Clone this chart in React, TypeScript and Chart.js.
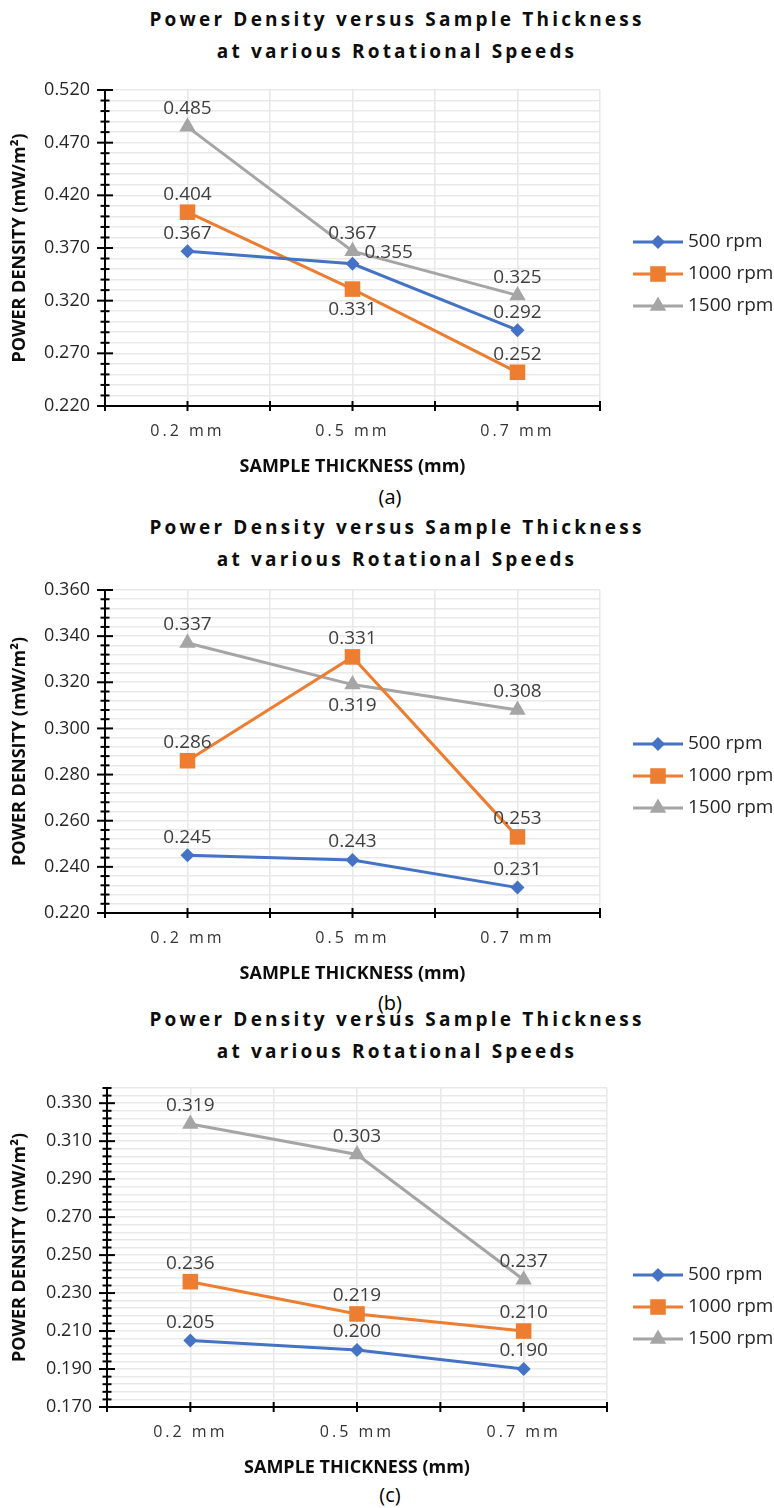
import React, { useEffect, useRef } from 'react';
import { Chart, registerables } from 'chart.js';
import { drawPoint } from 'chart.js/helpers';

Chart.register(...registerables);

// ---------- data ----------
const CATEGORIES = ['0.2 mm', '0.5 mm', '0.7 mm'];
const SERIES_NAMES = ['500 rpm', '1000 rpm', '1500 rpm'];

const A_500 = [0.367, 0.355, 0.292];
const A_1000 = [0.404, 0.331, 0.252];
const A_1500 = [0.485, 0.367, 0.325];

const B_500 = [0.245, 0.243, 0.231];
const B_1000 = [0.286, 0.331, 0.253];
const B_1500 = [0.337, 0.319, 0.308];

const C_500 = [0.205, 0.2, 0.19];
const C_1000 = [0.236, 0.219, 0.21];
const C_1500 = [0.319, 0.303, 0.237];

// y axis: min, max, major step, minor step
const A_Y_AXIS = [0.22, 0.52, 0.05, 0.01];
const B_Y_AXIS = [0.22, 0.36, 0.02, 0.004];
const C_Y_AXIS = [0.17, 0.338, 0.02, 0.004];

const TITLE_LINE_1 = 'Power Density versus Sample Thickness';
const TITLE_LINE_2 = 'at various Rotational Speeds';
const X_TITLE = 'SAMPLE THICKNESS (mm)';
const Y_TITLE = 'POWER DENSITY (mW/m\u00B2)';

// ---------- styles ----------
const SERIES_COLORS = ['#4472C4', '#ED7D31', '#A5A5A5'];
const POINT_STYLES = ['rectRot', 'rect', 'triangle'];
const POINT_RADII = [7, 11, 9.5];
const FONT = '"Open Sans", "Liberation Sans", sans-serif';

const A_LABEL_POS = [
  ['above', 'right', 'above'],
  ['above', 'below', 'above'],
  ['above', 'above', 'above'],
];
const B_LABEL_POS = [
  ['above', 'above', 'above'],
  ['above', 'above', 'above'],
  ['above', 'below', 'above'],
];
const C_LABEL_POS = [
  ['above', 'above', 'above'],
  ['above', 'above', 'above'],
  ['above', 'above', 'above'],
];

type PanelCfg = {
  series: number[][];
  yAxis: number[];
  labelPos: string[][];
  caption: string;
  titleTop: number;
  canvasTop: number;
  plotTop: number;
  plotBottom: number;
  plotLeft: number;
  plotRight: number;
  legendY: number[];
  captionY: number;
};

const X_AXIS_HEIGHT = 74;

const PANELS: PanelCfg[] = [
  {
    series: [A_500, A_1000, A_1500], yAxis: A_Y_AXIS, labelPos: A_LABEL_POS, caption: '(a)',
    titleTop: 3, canvasTop: 0, plotTop: 90, plotBottom: 406, plotLeft: 105, plotRight: 600,
    legendY: [242, 274, 306], captionY: 497,
  },
  {
    series: [B_500, B_1000, B_1500], yAxis: B_Y_AXIS, labelPos: B_LABEL_POS, caption: '(b)',
    titleTop: 511, canvasTop: 490, plotTop: 590, plotBottom: 913, plotLeft: 105, plotRight: 600,
    legendY: [744, 776, 808], captionY: 1003,
  },
  {
    series: [C_500, C_1000, C_1500], yAxis: C_Y_AXIS, labelPos: C_LABEL_POS, caption: '(c)',
    titleTop: 1003, canvasTop: 990, plotTop: 1088, plotBottom: 1407, plotLeft: 107, plotRight: 607,
    legendY: [1275, 1307, 1339], captionY: 1495,
  },
];

function makeConfig(p: PanelCfg): any {
  const [yMin, yMax, yMajor, yMinor] = p.yAxis;
  const nMinor = Math.round((yMax - yMin) / yMinor);
  const perMajor = Math.round(yMajor / yMinor);

  const decor = {
    id: 'decor',
    afterLayout(chart: any) {
      const s = chart.scales.x;
      if (!s.__patched) {
        const orig = s.drawLabels;
        s.drawLabels = function (ca: any) {
          const ctx = this.ctx;
          ctx.save();
          (ctx as any).letterSpacing = '3px';
          orig.call(this, ca);
          ctx.restore();
        };
        s.__patched = true;
      }
    },
    afterDraw(chart: any) {
      const ctx = chart.ctx as CanvasRenderingContext2D;
      const { x, y } = chart.scales;
      const ca = chart.chartArea;
      const line = (x1: number, y1: number, x2: number, y2: number) => {
        ctx.beginPath();
        ctx.moveTo(x1, y1);
        ctx.lineTo(x2, y2);
        ctx.stroke();
      };
      ctx.save();
      // axis tick marks crossing the axes
      ctx.strokeStyle = '#000';
      ctx.lineWidth = 2;
      y.ticks.forEach((t: any, k: number) => {
        const py = y.getPixelForValue(t.value);
        const len = k % perMajor === 0 ? 8 : 4.5;
        line(ca.left - len, py, ca.left + len, py);
      });
      x.ticks.forEach((t: any) => {
        const px = x.getPixelForValue(t.value);
        line(px, ca.bottom - 5, px, ca.bottom + 5);
      });

      // data labels
      ctx.font = `19px ${FONT}`;
      ctx.fillStyle = '#404040';
      ctx.textBaseline = 'middle';
      chart.data.datasets.forEach((ds: any, i: number) => {
        const meta = chart.getDatasetMeta(i);
        meta.data.forEach((pt: any, j: number) => {
          const text = ds.data[j].y.toFixed(3);
          const pos = p.labelPos[i][j];
          if (pos === 'right') {
            ctx.textAlign = 'left';
            ctx.fillText(text, pt.x + 12, pt.y - 11);
          } else if (pos === 'below') {
            ctx.textAlign = 'center';
            ctx.fillText(text, pt.x, pt.y + 21);
          } else {
            ctx.textAlign = 'center';
            ctx.fillText(text, pt.x, pt.y - 18);
          }
        });
      });

      // legend
      p.legendY.forEach((pageY, i) => {
        const ly = pageY - p.canvasTop;
        ctx.strokeStyle = SERIES_COLORS[i];
        ctx.lineWidth = 3;
        line(633, ly, 683, ly);
        ctx.fillStyle = SERIES_COLORS[i];
        drawPoint(ctx, { pointStyle: POINT_STYLES[i], radius: POINT_RADII[i], rotation: 0, borderWidth: 0 } as any, 658, ly);
        ctx.fillStyle = '#262626';
        ctx.textAlign = 'left';
        ctx.textBaseline = 'middle';
        ctx.font = `19px ${FONT}`;
        ctx.fillText(SERIES_NAMES[i], 688, ly);
      });
      ctx.restore();
    },
  };

  return {
    type: 'line',
    data: {
      datasets: SERIES_NAMES.map((name, i) => ({
        label: name,
        data: p.series[i].map((v, j) => ({ x: 2 * j + 1, y: v })),
        borderColor: SERIES_COLORS[i],
        backgroundColor: SERIES_COLORS[i],
        pointBackgroundColor: SERIES_COLORS[i],
        pointBorderColor: SERIES_COLORS[i],
        pointBorderWidth: 0,
        pointStyle: POINT_STYLES[i],
        pointRadius: POINT_RADII[i],
        borderWidth: 3,
        tension: 0,
        clip: false,
      })),
    },
    options: {
      responsive: false,
      maintainAspectRatio: false,
      animation: false,
      events: [],
      layout: {
        padding: { top: p.plotTop - p.canvasTop, right: 774 - p.plotRight, bottom: 0, left: 0 },
      },
      plugins: { legend: { display: false }, tooltip: { enabled: false }, title: { display: false } },
      scales: {
        x: {
          type: 'linear',
          min: 0,
          max: 2 * CATEGORIES.length,
          afterBuildTicks: (s: any) => {
            const t = [];
            for (let v = 0; v <= 2 * CATEGORIES.length; v++) t.push({ value: v });
            s.ticks = t;
          },
          afterFit: (s: any) => { s.height = X_AXIS_HEIGHT; },
          grid: { color: '#e9e9e9', lineWidth: 1.6, drawTicks: false },
          border: { color: '#000', width: 2 },
          ticks: {
            autoSkip: false,
            maxRotation: 0,
            padding: 16,
            color: '#333333',
            font: { family: FONT, size: 16 },
            callback: (v: number) => (v % 2 === 1 ? CATEGORIES[(v - 1) / 2] : ''),
          },
          title: {
            display: true,
            text: X_TITLE,
            color: '#0d0d0d',
            font: { family: FONT, size: 18, weight: 'bold' },
            padding: { top: 0, bottom: 2 },
          },
        },
        y: {
          type: 'linear',
          min: yMin,
          max: yMax,
          afterBuildTicks: (s: any) => {
            const t = [];
            for (let k = 0; k <= nMinor; k++) t.push({ value: Number((yMin + k * yMinor).toFixed(4)) });
            s.ticks = t;
          },
          afterFit: (s: any) => { s.width = p.plotLeft; },
          grid: { color: '#e9e9e9', lineWidth: 1.6, drawTicks: false },
          border: { color: '#000', width: 2 },
          ticks: {
            autoSkip: false,
            padding: 15,
            color: '#262626',
            font: { family: FONT, size: 18 },
            callback: (v: number, idx: number) => (idx % perMajor === 0 ? v.toFixed(3) : ''),
          },
          title: {
            display: true,
            text: Y_TITLE,
            color: '#0d0d0d',
            font: { family: FONT, size: 18, weight: 'bold' },
            padding: { top: 9, bottom: 0 },
          },
        },
      },
    },
    plugins: [decor],
  };
}

function Panel({ p }: { p: PanelCfg }) {
  const ref = useRef<HTMLCanvasElement>(null);
  const canvasHeight = p.plotBottom + X_AXIS_HEIGHT - p.canvasTop;
  useEffect(() => {
    const chart = new Chart(ref.current as HTMLCanvasElement, makeConfig(p));
    return () => chart.destroy();
  }, [p]);
  return (
    <>
      <div
        style={{
          position: 'absolute', left: 10, top: p.titleTop, width: 774, textAlign: 'center',
          fontFamily: FONT, fontWeight: 'bold', fontSize: 19, letterSpacing: '3.2px', lineHeight: '32px',
          color: '#0d0d0d', whiteSpace: 'nowrap',
        }}
      >
        {TITLE_LINE_1}
        <br />
        {TITLE_LINE_2}
      </div>
      <canvas
        ref={ref}
        width={774}
        height={canvasHeight}
        style={{ position: 'absolute', left: 0, top: p.canvasTop, width: 774, height: canvasHeight }}
      />
      <div
        style={{
          position: 'absolute', left: 0, top: p.captionY - 14, width: 780, textAlign: 'center',
          fontFamily: FONT, fontSize: 20, lineHeight: '28px', color: '#000',
        }}
      >
        {p.caption}
      </div>
    </>
  );
}

export default function App() {
  return (
    <div style={{ position: 'absolute', left: 0, top: 0, width: 774, height: 1508, background: '#fff' }}>
      {PANELS.map((p, i) => (
        <Panel key={i} p={p} />
      ))}
    </div>
  );
}
